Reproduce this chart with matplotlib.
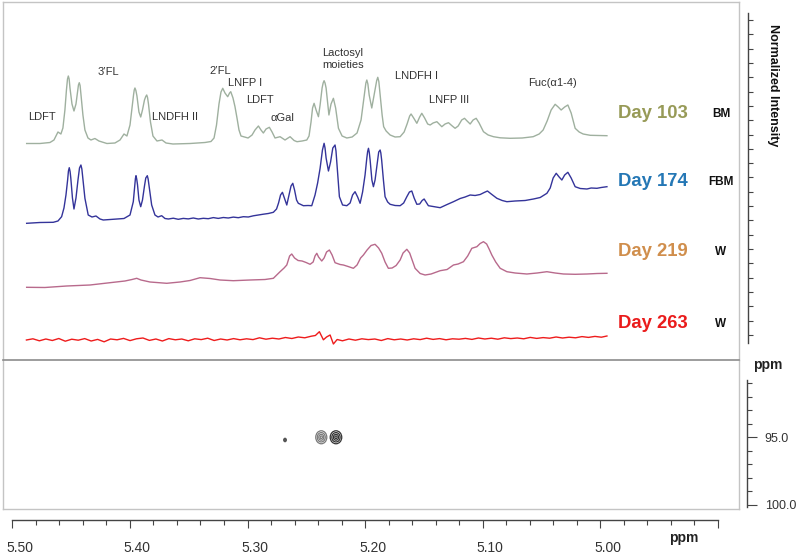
import matplotlib
matplotlib.use("Agg")
import matplotlib.pyplot as plt
from matplotlib.patches import Ellipse
from matplotlib.ticker import MultipleLocator, FixedLocator, NullFormatter
from matplotlib.transforms import ScaledTranslation

plt.rcParams['font.family'] = ['Liberation Sans', 'DejaVu Sans']

# ---------------- data ----------------
day103_ppm = [5.4878, 5.4765, 5.4680, 5.4646, 5.4612, 5.4587, 5.4570, 5.4553, 5.4540, 5.4531,
              5.4524, 5.4517, 5.4510, 5.4493, 5.4476, 5.4459, 5.4446, 5.4438, 5.4431, 5.4424,
              5.4417, 5.4400, 5.4383, 5.4357,
              5.4332, 5.4298, 5.4264, 5.4196, 5.4128, 5.4085, 5.4051, 5.4026, 5.4000, 5.3983,
              5.3970, 5.3964, 5.3958, 5.3950, 5.3941, 5.3924, 5.3909, 5.3894, 5.3877, 5.3866,
              5.3858, 5.3851, 5.3843, 5.3826,
              5.3805, 5.3771, 5.3728, 5.3694, 5.3635, 5.3490, 5.3363, 5.3312, 5.3286, 5.3265,
              5.3244, 5.3227, 5.3212, 5.3193, 5.3170, 5.3154, 5.3144, 5.3125, 5.3108, 5.3091,
              5.3074, 5.3057, 5.2997, 5.2963, 5.2938, 5.2909, 5.2887, 5.2867, 5.2844, 5.2816,
              5.2793, 5.2768, 5.2725, 5.2683, 5.2640, 5.2606, 5.2581, 5.2538, 5.2498, 5.2479,
              5.2462, 5.2449, 5.2436, 5.2419, 5.2399, 5.2385, 5.2368, 5.2359, 5.2351, 5.2343,
              5.2334, 5.2310,
              5.2292, 5.2272, 5.2253, 5.2229, 5.2198, 5.2158, 5.2113, 5.2071, 5.2037, 5.2011,
              5.1996, 5.1988, 5.1979, 5.1968, 5.1946, 5.1922, 5.1904, 5.1895, 5.1886, 5.1875,
              5.1858, 5.1845, 5.1824, 5.1790,
              5.1748, 5.1705, 5.1671, 5.1646, 5.1624, 5.1612, 5.1590, 5.1563, 5.1539, 5.1521,
              5.1497, 5.1471, 5.1450, 5.1425, 5.1393, 5.1369, 5.1351, 5.1323, 5.1294, 5.1267,
              5.1238, 5.1212, 5.1182, 5.1158, 5.1136, 5.1110, 5.1085, 5.1059, 5.1034, 5.0997,
              5.0957, 5.0912, 5.0855, 5.0770, 5.0668, 5.0575, 5.0524, 5.0490, 5.0456, 5.0422,
              5.0388, 5.0362, 5.0337, 5.0307, 5.0280, 5.0252, 5.0218, 5.0184, 5.0150, 5.0090,
              5.0005, 4.9948]
day103_int = [0.00, 0.00, 0.10, 0.35, 1.15, 0.95, 1.55, 3.35, 5.35, 6.45,
              6.75, 6.45, 5.55, 3.95, 3.25, 3.95, 5.15, 5.85, 6.08, 5.80,
              4.95, 2.85, 1.35, 0.55,
              0.35, 0.50, 0.25, 0.00, 0.05, 0.35, 0.95, 0.75, 1.85, 3.55,
              4.85, 5.35, 5.55, 5.30, 4.75, 3.15, 2.65, 3.35, 4.35, 4.70,
              4.85, 4.60, 3.95, 2.15,
              0.75, 0.25, 0.35, 0.05, -0.05, 0.00, 0.10, 0.20, 0.55, 1.85,
              3.95, 5.15, 5.52, 5.05, 4.68, 5.05, 5.18, 4.55, 3.68, 2.55,
              1.35, 0.75, 0.55, 0.85, 1.35, 1.75, 1.35, 1.05, 1.45, 1.62,
              1.15, 0.55, 0.68, 0.35, 0.68, 0.30, 0.18, 0.25, 0.35, 0.75,
              2.15, 3.55, 4.02, 3.35, 2.68, 3.85, 5.55, 6.05, 6.28, 6.05,
              5.55, 2.85,
              3.95, 4.52, 3.55, 1.52, 0.75, 0.55, 0.65, 1.05, 2.35, 4.75,
              6.05, 6.35, 5.95, 4.85, 3.55, 5.15, 6.30, 6.62, 6.20, 4.85,
              2.85, 1.68, 1.25, 0.85,
              0.65, 0.68, 1.15, 1.95, 2.75, 2.95, 2.55, 2.02, 2.65, 3.02,
              2.55, 1.95, 1.85, 2.05, 2.18, 1.90, 1.68, 1.95, 2.08, 1.80,
              1.52, 1.75, 2.35, 2.52, 2.25, 1.95, 2.35, 2.52, 2.05, 1.18,
              0.85, 0.68, 0.57, 0.52, 0.55, 0.68, 0.95, 1.35, 2.25, 3.35,
              3.92, 3.65, 3.35, 3.65, 3.85, 3.05, 1.52, 1.15, 0.95, 0.82,
              0.79, 0.78]

day174_ppm = [5.4878, 5.4765, 5.4652, 5.4612, 5.4581, 5.4561, 5.4544, 5.4530, 5.4523, 5.4516,
              5.4509, 5.4503,
              5.4489, 5.4476, 5.4459, 5.4442, 5.4429, 5.4417, 5.4409, 5.4401, 5.4383, 5.4355,
              5.4323,
              5.4289, 5.4255, 5.4227, 5.4170, 5.4113, 5.4051, 5.4000, 5.3972, 5.3959, 5.3954,
              5.3949, 5.3943,
              5.3936, 5.3924, 5.3909, 5.3894, 5.3877, 5.3866, 5.3853, 5.3846, 5.3839, 5.3816,
              5.3788,
              5.3762, 5.3731, 5.3703, 5.3674, 5.3632, 5.3590, 5.3547, 5.3505, 5.3462, 5.3420,
              5.3377, 5.3335, 5.3292, 5.3250, 5.3207, 5.3165, 5.3122, 5.3080, 5.3037, 5.2995,
              5.2952, 5.2910, 5.2867, 5.2825, 5.2782, 5.2755, 5.2738, 5.2721, 5.2705, 5.2688,
              5.2668, 5.2649, 5.2632, 5.2617, 5.2602, 5.2585, 5.2570, 5.2527, 5.2487, 5.2456,
              5.2428, 5.2406, 5.2385, 5.2365, 5.2351, 5.2343, 5.2334, 5.2314, 5.2296, 5.2277,
              5.2258, 5.2250,
              5.2241, 5.2221, 5.2194, 5.2158, 5.2130, 5.2109, 5.2088, 5.2066, 5.2045, 5.2024,
              5.2003, 5.1988, 5.1981, 5.1974, 5.1967, 5.1960, 5.1945, 5.1932, 5.1918, 5.1901,
              5.1887, 5.1875, 5.1869,
              5.1862, 5.1847, 5.1833, 5.1811, 5.1790, 5.1748, 5.1705, 5.1675, 5.1648, 5.1626,
              5.1606, 5.1586, 5.1563, 5.1539, 5.1518, 5.1501, 5.1480, 5.1465, 5.1425, 5.1365,
              5.1306, 5.1252, 5.1195, 5.1153, 5.1110, 5.1068, 5.1025, 5.0991, 5.0963, 5.0931,
              5.0883, 5.0838, 5.0798, 5.0728, 5.0643, 5.0572, 5.0515, 5.0458, 5.0430, 5.0405,
              5.0379, 5.0354, 5.0331, 5.0307, 5.0280, 5.0252, 5.0218, 5.0175, 5.0118, 5.0082,
              5.0033, 4.9997, 4.9948]
day174_int = [-0.13, -0.05, -0.03, 0.10, 0.53, 1.40, 2.70, 4.20, 5.10, 5.43,
              5.05, 4.40,
              2.40, 1.30, 2.40, 4.20, 5.40, 5.70, 5.30, 4.40, 2.37, 0.70,
              0.50,
              0.60, 0.30, 0.20, 0.25, 0.30, 0.35, 0.70, 2.03, 3.70, 4.35,
              4.63, 4.30,
              3.70, 2.20, 1.53, 2.20, 3.60, 4.40, 4.63, 4.30, 3.70, 1.70,
              0.70,
              0.50, 0.63, 0.35, 0.30, 0.38, 0.27, 0.36, 0.31, 0.40, 0.30,
              0.37, 0.33, 0.44, 0.36, 0.45, 0.40, 0.49, 0.43, 0.53, 0.50,
              0.62, 0.70, 0.78, 0.85, 0.97, 1.30, 1.90, 2.70, 2.97, 2.40,
              1.70, 2.70, 3.60, 3.87, 3.20, 2.20, 1.87, 1.63, 1.65, 1.63,
              2.70, 3.90, 5.37, 7.20, 7.87, 7.40, 6.40, 5.10, 6.00, 7.40,
              7.70, 7.10,
              5.70, 2.53, 1.70, 1.63, 1.90, 2.70, 3.03, 2.50, 1.87, 3.00,
              4.70, 6.40, 7.05, 7.37, 6.95, 6.20, 4.20, 3.53, 4.20, 5.70,
              7.00, 7.20, 6.90,
              6.20, 4.20, 2.53, 2.00, 1.77, 1.65, 1.63, 1.90, 2.53, 3.00,
              3.10, 2.40, 1.77, 1.80, 2.15, 2.30, 1.90, 1.63, 1.55, 1.43,
              1.75, 2.03, 2.35, 2.50, 2.70, 2.65, 2.75, 2.95, 3.10, 2.80,
              2.37, 2.15, 2.03, 2.10, 2.15, 2.30, 2.45, 2.87, 3.40, 4.40,
              4.87, 4.50, 4.20, 4.70, 4.97, 4.40, 3.53, 3.35, 3.30, 3.40,
              3.37, 3.45, 3.53]

day219_ppm = [5.4878, 5.4723, 5.4538, 5.4340, 5.4170, 5.4043, 5.3983, 5.3943, 5.3907, 5.3830,
              5.3688, 5.3575, 5.3490, 5.3405, 5.3320, 5.3235, 5.3122, 5.2980, 5.2853, 5.2782,
              5.2725, 5.2691, 5.2668, 5.2644, 5.2626, 5.2602, 5.2572, 5.2538, 5.2504, 5.2470,
              5.2444, 5.2428, 5.2413, 5.2398, 5.2371, 5.2351, 5.2330, 5.2306, 5.2283, 5.2258,
              5.2215, 5.2187, 5.2147, 5.2102, 5.2071, 5.2041, 5.2017, 5.1986, 5.1952, 5.1918,
              5.1888, 5.1861, 5.1833, 5.1805, 5.1773, 5.1739, 5.1705, 5.1680, 5.1648, 5.1624,
              5.1603, 5.1578, 5.1535, 5.1493, 5.1442, 5.1365, 5.1306, 5.1252, 5.1212, 5.1167,
              5.1131, 5.1096, 5.1053, 5.1025, 5.0997, 5.0970, 5.0949, 5.0926, 5.0893, 5.0855,
              5.0798, 5.0728, 5.0628, 5.0541, 5.0458, 5.0388, 5.0317, 5.0218, 5.0118, 5.0031,
              4.9948]
day219_int = [-0.03, -0.05, 0.10, 0.20, 0.43, 0.60, 0.75, 0.87, 0.70, 0.50,
              0.37, 0.50, 0.65, 0.93, 0.85, 0.70, 0.63, 0.70, 0.75, 0.87,
              1.53, 1.90, 2.20, 3.10, 3.30, 2.90, 2.65, 2.60, 2.45, 2.27,
              2.50, 3.10, 3.37, 3.00, 2.60, 2.90, 3.50, 3.70, 3.20, 2.43,
              2.25, 2.20, 2.05, 1.87, 2.20, 2.90, 3.20, 3.70, 4.15, 4.27,
              3.90, 3.37, 2.50, 1.87, 1.90, 2.15, 2.70, 3.40, 3.77, 3.40,
              2.70, 1.87, 1.35, 1.20, 1.30, 1.63, 1.75, 2.20, 2.30, 2.53,
              3.10, 3.87, 4.03, 4.35, 4.53, 4.30, 3.80, 3.20, 2.50, 1.87,
              1.53, 1.40, 1.30, 1.40, 1.53, 1.40, 1.30, 1.27, 1.30, 1.35,
              1.37]

day263_ppm = [5.4880, 5.4825, 5.4770, 5.4715, 5.4660, 5.4605, 5.4550, 5.4495, 5.4440, 5.4385,
              5.4330, 5.4275, 5.4220, 5.4165, 5.4110, 5.4055, 5.4000, 5.3945, 5.3890, 5.3835,
              5.3780, 5.3725, 5.3670, 5.3615, 5.3560, 5.3505, 5.3450, 5.3395, 5.3340, 5.3285,
              5.3230, 5.3175, 5.3120, 5.3065, 5.3010, 5.2955, 5.2900, 5.2845, 5.2790, 5.2735,
              5.2680, 5.2625, 5.2570, 5.2515, 5.2460, 5.2425, 5.2391, 5.2357, 5.2330, 5.2300,
              5.2272, 5.2240, 5.2195, 5.2140, 5.2085, 5.2030, 5.1975, 5.1920, 5.1865, 5.1810,
              5.1755, 5.1700, 5.1645, 5.1590, 5.1535, 5.1480, 5.1425, 5.1370, 5.1315, 5.1260,
              5.1205, 5.1150, 5.1095, 5.1040, 5.0985, 5.0930, 5.0875, 5.0820, 5.0765, 5.0710,
              5.0655, 5.0600, 5.0545, 5.0490, 5.0435, 5.0380, 5.0325, 5.0270, 5.0215, 5.0160,
              5.0105, 5.0050, 4.9995, 4.9948]
day263_int = [0.00, 0.12, -0.08, 0.10, -0.05, 0.15, -0.12, 0.08, -0.02, 0.14,
              -0.10, 0.06, -0.18, 0.10, 0.02, 0.16, -0.06, 0.12, 0.20, -0.04,
              0.10, -0.10, 0.14, 0.02, 0.10, -0.08, 0.12, 0.04, 0.18, -0.05,
              0.10, 0.00, 0.14, 0.02, 0.12, 0.04, 0.22, 0.08, 0.18, 0.10,
              0.25, 0.15, 0.30, 0.22, 0.38, 0.45, 0.83, 0.02, 0.30, 0.50,
              -0.40, 0.05, -0.08, 0.10, -0.02, 0.12, 0.04, 0.10, -0.05, 0.14,
              0.02, 0.10, 0.00, 0.12, 0.04, 0.18, 0.06, 0.14, 0.02, 0.12,
              0.08, 0.16, 0.06, 0.20, 0.10, 0.18, 0.08, 0.22, 0.14, 0.20,
              0.12, 0.26, 0.16, 0.24, 0.18, 0.30, 0.20, 0.28, 0.22, 0.34,
              0.26, 0.36, 0.28, 0.40]

day_labels = ["Day 103", "Day 174", "Day 219", "Day 263"]
sample_types = ["BM", "FBM", "W", "W"]

# HSQC cross peaks (1H ppm, 13C ppm)
hsqc_h = [5.2375, 5.2250, 5.2683]
hsqc_c = [95.0, 95.0, 95.2]

x_major = [5.50, 5.40, 5.30, 5.20, 5.10, 5.00, 4.90]
x_labels = ["5.50", "5.40", "5.30", "5.20", "5.10", "5.00", ""]
c_major = [95.0, 100.0]
c_labels = ["95.0", "100.0"]

peak_labels = ["LDFT", "3\u2019FL", "LNDFH II", "2\u2019FL", "LNFP I", "LDFT", "\u03b1Gal",
               "Lactosyl\nmoieties", "LNDFH I", "LNFP III", "Fuc(\u03b11-4)"]

# ---------------- styles / layout ----------------
W, H = 803, 554
def fx(x): return x / W
def fy(y): return 1 - y / H

trace_colors = ["#9fb09f", "#34349a", "#b86a8c", "#ee1c1c"]
label_colors = ["#979a57", "#2477b5", "#d08e4c", "#ea1b1b"]
offsets = [21.65, 13.8, 7.3, 2.0]
label_y = [114, 182, 252, 324]
peak_label_pos = [(42, 117), (108, 72), (175, 117), (220, 71), (245, 83), (260, 100),
                  (282, 118), (343, 59), (417, 76), (449, 100), (553, 83)]

fig = plt.figure(figsize=(W / 100, H / 100), dpi=100)

XL = (5.5079, 4.8826)
frame_c = "#c4c4c4"
div_c = "#8c8c8c"

ax = fig.add_axes([fx(3), fy(360), fx(739) - fx(3), fy(2) - fy(360)])
ax.set_xlim(*XL)
ax.set_ylim(0, 35.8)
ax.set_xticks([]); ax.set_yticks([])
for s in ax.spines.values():
    s.set_color(frame_c); s.set_linewidth(1.0)
ax.spines['bottom'].set_visible(False)

series = [(day103_ppm, day103_int), (day174_ppm, day174_int),
          (day219_ppm, day219_int), (day263_ppm, day263_int)]
for (p, v), c, off in zip(series, trace_colors, offsets):
    ax.plot(p, [off + t for t in v], color=c, lw=1.0, solid_joinstyle='round')

for lab, (px_, py_) in zip(peak_labels, peak_label_pos):
    fig.text(fx(px_), fy(py_), lab, ha='center', va='center', fontsize=8,
             color='#333333', linespacing=1.15)

for lab, st, c, yy in zip(day_labels, sample_types, label_colors, label_y):
    fig.text(fx(652.5), fy(yy), lab, ha='center', va='center', fontsize=13.3,
             fontweight='bold', color=c)
    fig.text(fx(721), fy(yy), st, ha='center', va='center', fontsize=8.5,
             fontweight='bold', color='#111111')

# 2D panel
ax2 = fig.add_axes([fx(3), fy(509), fx(739) - fx(3), fy(360) - fy(509)])
ax2.set_xlim(*XL)
ax2.set_ylim(100.30, 89.29)
ax2.set_xticks([]); ax2.set_yticks([])
for s in ax2.spines.values():
    s.set_color(frame_c); s.set_linewidth(1.0)
ax2.spines['top'].set_color(div_c)
ax2.spines['top'].set_linewidth(1.2)
ring_w = [0.0094, 0.0098, 0.0021]
ring_h = [0.96, 0.96, 0.25]
ring_col = ["#7a7a7a", "#333333", "#555555"]
for h, c, w, hh, col in zip(hsqc_h, hsqc_c, ring_w, ring_h, ring_col):
    for k in [1.0, 0.72, 0.45, 0.2]:
        ax2.add_patch(Ellipse((h, c), w * k, hh * k, fill=False, ec=col, lw=0.9))

# bottom ppm axis
axx = fig.add_axes([fx(12.3), fy(520), fx(718) - fx(12.3), 0.0001])
axx.set_xlim(5.50, 4.90)
axx.set_yticks([])
for k in ['top', 'left', 'right']:
    axx.spines[k].set_visible(False)
axx.spines['bottom'].set_color('#444444'); axx.spines['bottom'].set_linewidth(1.0)
axx.xaxis.set_major_locator(FixedLocator(x_major))
axx.set_xticklabels(x_labels)
axx.xaxis.set_minor_locator(MultipleLocator(0.02))
axx.tick_params(axis='x', which='major', direction='out', length=5.8, width=0.8,
                color='#444444', labelsize=10, labelcolor='#333333', pad=9.5)
axx.tick_params(axis='x', which='minor', direction='out', length=3.6, width=0.8,
                color='#444444')
off = ScaledTranslation(7.5 / 100, 0, fig.dpi_scale_trans)
for lab in axx.get_xticklabels():
    lab.set_transform(lab.get_transform() + off)
fig.text(fx(683.5), fy(538), "ppm", ha='center', va='center', fontsize=10,
         fontweight='bold', color='#222222')

# right intensity axis
axi = fig.add_axes([fx(747.7), fy(343), 0.0001, fy(13) - fy(343)])
axi.set_ylim(-0.5587, 22.486)
axi.set_xticks([])
for k in ['top', 'bottom', 'right']:
    axi.spines[k].set_visible(False)
axi.spines['left'].set_color('#444444'); axi.spines['left'].set_linewidth(1.0)
axi.yaxis.set_major_locator(MultipleLocator(1))
axi.yaxis.set_major_formatter(NullFormatter())
axi.tick_params(axis='y', direction='in', length=3.6, width=0.8, color='#444444')
fig.text(fx(773), fy(85), "Normalized Intensity", rotation=270, ha='center',
         va='center', fontsize=9, fontweight='bold', color='#111111')

# right 13C axis
axc = fig.add_axes([fx(746.7), fy(507), 0.0001, fy(380) - fy(507)])
axc.set_ylim(100.15, 90.76)
axc.set_xticks([])
for k in ['top', 'bottom', 'right']:
    axc.spines[k].set_visible(False)
axc.spines['left'].set_color('#444444'); axc.spines['left'].set_linewidth(1.0)
axc.yaxis.set_major_locator(FixedLocator(c_major))
axc.set_yticklabels(c_labels)
axc.yaxis.set_minor_locator(MultipleLocator(1))
axc.tick_params(axis='y', which='major', direction='in', length=7.2, width=0.8,
                color='#444444', left=True, right=False, labelleft=False,
                labelright=True, labelsize=9, labelcolor='#333333', pad=13)
axc.tick_params(axis='y', which='minor', direction='in', length=3.6, width=0.8,
                color='#444444')
fig.text(fx(767.7), fy(365), "ppm", ha='center', va='center', fontsize=10,
         fontweight='bold', color='#222222')

fig.savefig("out.png", dpi=100)
